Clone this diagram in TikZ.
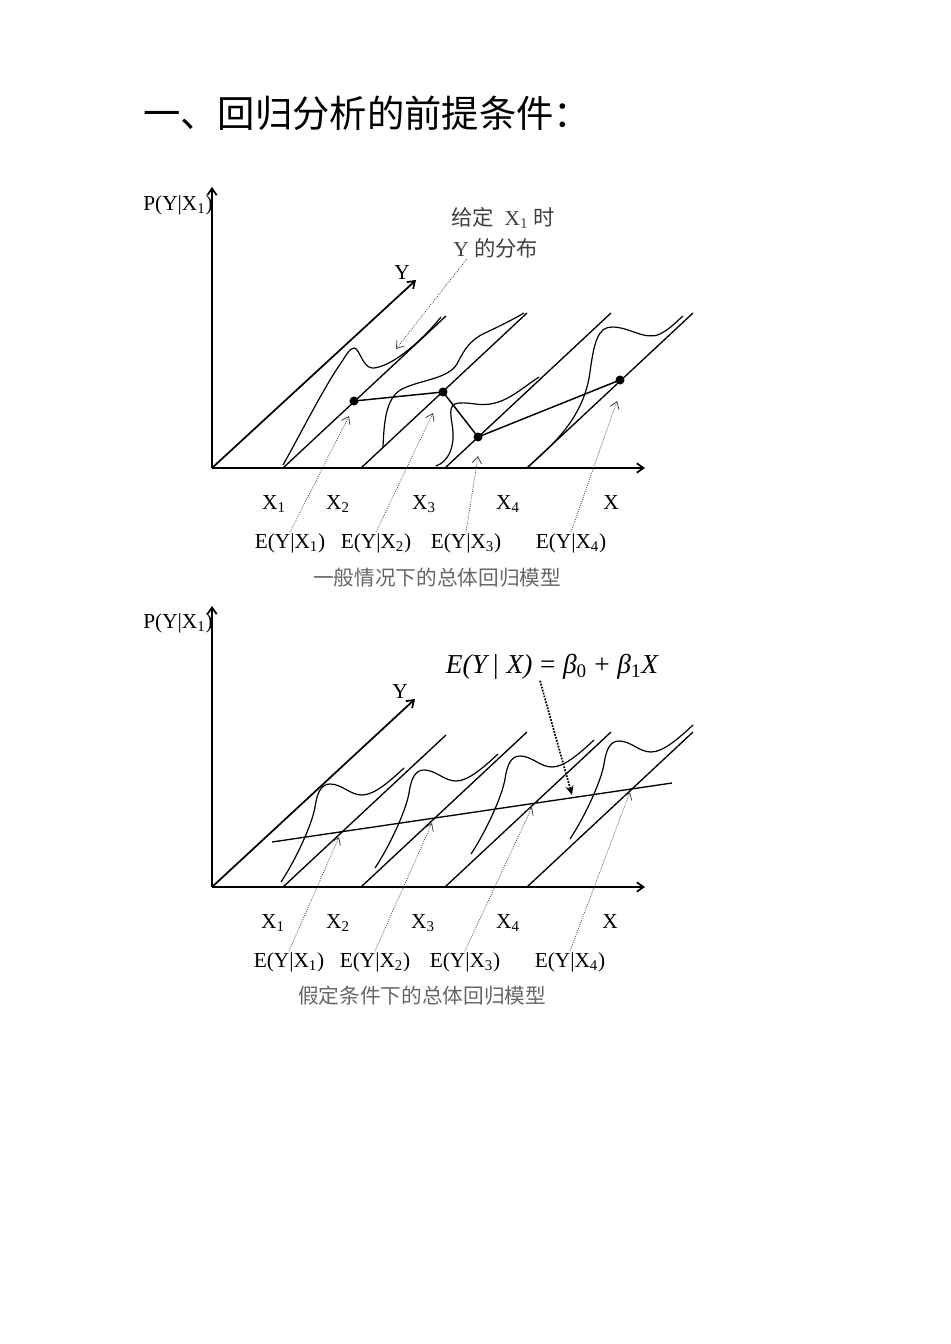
\documentclass[tikz,border=0pt]{standalone}
\usepackage{fontspec}
\setmainfont{Liberation Serif}
\newfontfamily\cjk{Noto Sans CJK SC}
\usetikzlibrary{arrows.meta}

\tikzset{
  axis/.style={line width=1.3pt,-{Straight Barb[length=5pt,width=7pt]}},
  grid line/.style={line width=1pt},
  dens/.style={line width=0.9pt},
  pointer/.style={densely dotted,line width=0.6pt,black!75,-{Straight Barb[length=5pt,width=7pt]}},
  lbl/.style={inner sep=0.75pt,font=\fontsize{16}{18}\selectfont},
  caption/.style={inner sep=0.75pt,font=\cjk\fontsize{15.5}{18}\selectfont,text=black!60},
}

\begin{document}
\begin{tikzpicture}[x=0.75pt,y=0.75pt,yscale=-1,xscale=1]
\useasboundingbox (0,0) rectangle (950,1344);

% Text Node
\node[anchor=west,inner sep=0pt,font=\cjk\fontsize{28}{30}\selectfont] (title) at (143,113) {一、回归分析的前提条件：};

%%%%%%%% general case
%Straight Lines
\draw[axis] (212,468) -- (212,187);
\draw[axis] (212,468) -- (645,468);
\draw[axis] (212,468) -- (416,280);
\draw[grid line] (283,468) -- (446,316);
\draw[grid line] (361,468) -- (527,313);
\draw[grid line] (445,468) -- (611,313);
\draw[grid line] (527,468) -- (693,313);
%Curve Lines
\draw[dens] (283,465) .. controls (300,435) and (325,385) .. (343,360) .. controls (349,350) and (353,345) .. (357,350) .. controls (362,357) and (365,369) .. (374,368) .. controls (392,366) and (420,343) .. (441,317);
\draw[dens] (383,447) .. controls (384,425) and (385,398) .. (402,389) .. controls (420,380) and (448,379) .. (457,364) .. controls (464,350) and (470,340) .. (485,333) .. controls (500,326) and (512,320) .. (524,313);
\draw[dens] (436,466) .. controls (447,462) and (454,450) .. (453,432) .. controls (452,418) and (446,404) .. (459,403) .. controls (472,402) and (480,407) .. (495,403) .. controls (511,399) and (525,386) .. (539,377);
\draw[dens] (528,467) -- (541,455) .. controls (562,436) and (585,410) .. (590,372) .. controls (594,342) and (598,327) .. (612,327) .. controls (630,327) and (645,341) .. (660,334) .. controls (670,329) and (676,322) .. (683,316);
% conditional means
\coordinate (A1) at (354,401);
\coordinate (A2) at (443,392);
\coordinate (A3) at (478,437);
\coordinate (A4) at (620,380);
\draw[line width=1.1pt] (A1) -- (A2) -- (A3) -- (A4);
\fill (A1) circle (4.5);
\fill (A2) circle (4.5);
\fill (A3) circle (4.5);
\fill (A4) circle (4.5);
\coordinate (ta1) at (349,416);
\coordinate (ta2) at (433,413);
\coordinate (ta3) at (478,456);
\coordinate (ta4) at (617,401);
\coordinate (td) at (396,349);

% Text Node
\node[lbl] (pa) at (178,205) {P(Y|X\textsubscript{1})};
\node[lbl] (ya) at (402,273) {Y};
\node[lbl,anchor=west,text=black!75] (given) at (450,218) {{\cjk 给定}~~X\textsubscript{1}~{\cjk 时}};
\node[lbl,anchor=west,text=black!75] (dist) at (452,248) {Y {\cjk 的分布}};
\node[lbl] (xa1) at (274,504) {X\textsubscript{1}};
\node[lbl] (xa2) at (338,504) {X\textsubscript{2}};
\node[lbl] (xa3) at (424,504) {X\textsubscript{3}};
\node[lbl] (xa4) at (508,504) {X\textsubscript{4}};
\node[lbl] (xa) at (611,503) {X};
\node[lbl] (ea1) at (290,543) {E(Y|X\textsubscript{1})};
\node[lbl] (ea2) at (376,543) {E(Y|X\textsubscript{2})};
\node[lbl] (ea3) at (466,543) {E(Y|X\textsubscript{3})};
\node[lbl] (ea4) at (571,543) {E(Y|X\textsubscript{4})};
\node[caption] (capa) at (437,578) {一般情况下的总体回归模型};
\draw[pointer] ([xshift=11pt]dist.south west) -- (td);
\draw[pointer] (ea1.north) -- (ta1);
\draw[pointer] (ea2.north) -- (ta2);
\draw[pointer] (ea3.north) -- (ta3);
\draw[pointer] (ea4.north) -- (ta4);

%%%%%%%% assumed case
%Straight Lines
\draw[axis] (212,887) -- (212,606);
\draw[axis] (212,887) -- (645,887);
\draw[axis] (212,887) -- (415,699);
\draw[grid line] (283,887) -- (446,735);
\draw[grid line] (361,887) -- (527,732);
\draw[grid line] (445,887) -- (611,732);
\draw[grid line] (527,887) -- (693,732);
\draw[grid line] (272,842) -- (672,783);
% conditional means on the regression line
\coordinate (B1) at (342,832);
\coordinate (B2) at (436,818);
\coordinate (B3) at (532,804);
\coordinate (B4) at (631,789);
%Curve Lines
\draw[dens,shift={(B1)}] (-61,50) .. controls (-47,29) and (-30,-7) .. (-27,-25) .. controls (-25,-39) and (-21,-48) .. (-12,-48) .. controls (0,-48) and (8,-37) .. (20,-37) .. controls (32,-37) and (47,-50) .. (62,-64);
\draw[dens,shift={(B2)}] (-61,50) .. controls (-47,29) and (-30,-7) .. (-27,-25) .. controls (-25,-39) and (-21,-48) .. (-12,-48) .. controls (0,-48) and (8,-37) .. (20,-37) .. controls (32,-37) and (47,-50) .. (62,-64);
\draw[dens,shift={(B3)}] (-61,50) .. controls (-47,29) and (-30,-7) .. (-27,-25) .. controls (-25,-39) and (-21,-48) .. (-12,-48) .. controls (0,-48) and (8,-37) .. (20,-37) .. controls (32,-37) and (47,-50) .. (62,-64);
\draw[dens,shift={(B4)}] (-61,50) .. controls (-47,29) and (-30,-7) .. (-27,-25) .. controls (-25,-39) and (-21,-48) .. (-12,-48) .. controls (0,-48) and (8,-37) .. (20,-37) .. controls (32,-37) and (47,-50) .. (62,-64);
\coordinate (tb1) at (339,837);
\coordinate (tb2) at (432,823);
\coordinate (tb3) at (532,807);
\coordinate (tb4) at (630,792);
\coordinate (tm) at (572,795);

% Text Node
\node[lbl] (pb) at (178,623) {P(Y|X\textsubscript{1})};
\node[lbl] (yb) at (400,692) {Y};
\node[inner sep=0.75pt,font=\fontsize{20.5}{22}\selectfont\itshape] (model) at (552,667) {E(Y\,|\;X)\;{\upshape =}\;β\textsubscript{\upshape 0}\;{\upshape +}\;β\textsubscript{\upshape 1}X};
\node[lbl] (xb1) at (273,923) {X\textsubscript{1}};
\node[lbl] (xb2) at (338,923) {X\textsubscript{2}};
\node[lbl] (xb3) at (423,923) {X\textsubscript{3}};
\node[lbl] (xb4) at (508,923) {X\textsubscript{4}};
\node[lbl] (xb) at (610,922) {X};
\node[lbl] (eb1) at (289,962) {E(Y|X\textsubscript{1})};
\node[lbl] (eb2) at (375,962) {E(Y|X\textsubscript{2})};
\node[lbl] (eb3) at (465,962) {E(Y|X\textsubscript{3})};
\node[lbl] (eb4) at (570,962) {E(Y|X\textsubscript{4})};
\node[caption] (capb) at (422,996) {假定条件下的总体回归模型};
\draw[densely dotted,line width=1.3pt,-{Stealth[length=7pt,width=6pt]}] ([xshift=-9pt]model.south) -- (tm);
\draw[pointer] (eb1.north) -- (tb1);
\draw[pointer] (eb2.north) -- (tb2);
\draw[pointer] (eb3.north) -- (tb3);
\draw[pointer] (eb4.north) -- (tb4);
\end{tikzpicture}
\end{document}
